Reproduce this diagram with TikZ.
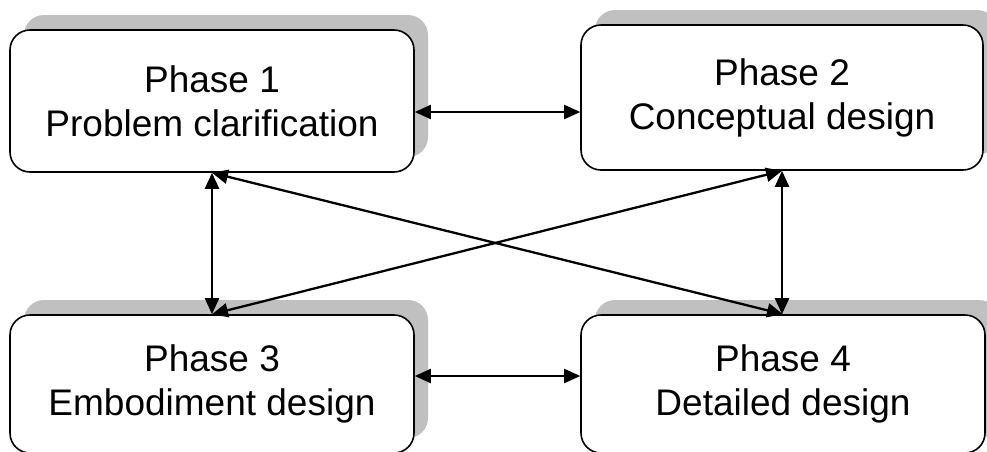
\documentclass[tikz,border=0pt]{standalone}
\usepackage{fontspec}
\setmainfont{Liberation Sans}
\usetikzlibrary{arrows.meta,shadows}
\definecolor{shadowgray}{HTML}{C0C0C0}
\tikzset{
  phasebox/.style={
    draw=black, line width=1.6pt, fill=white,
    rounded corners=20pt, inner sep=0pt, align=center,
    font=\fontsize{37}{44}\selectfont,
    drop shadow={shadow xshift=14pt, shadow yshift=15pt,
                 fill=shadowgray, opacity=1}
  },
  link/.style={
    line width=2.3pt,
    {Triangle[length=16pt,width=14pt]}-{Triangle[length=16pt,width=14pt]}
  }
}
\begin{document}
\begin{tikzpicture}[x=1pt,y=-1pt]
  \useasboundingbox (0,0) rectangle (987,451);

  % the four phases
  \node[phasebox, minimum width=404pt, minimum height=142pt] (p1) at (212,101)
    {Phase 1\\Problem clarification};
  \node[phasebox, minimum width=402pt, minimum height=145pt] (p2) at (782,97.5)
    {Phase 2\\Conceptual design};
  \node[phasebox, minimum width=404pt, minimum height=138pt] (p3) at (212,384)
    {Phase 3\\Embodiment design};
  \node[phasebox, minimum width=404pt, minimum height=138pt] (p4) at (783,384)
    {Phase 4\\Detailed design};

  % iteration links between phases
  \draw[link] ([yshift=-11pt]p1.east) -- ([yshift=-11pt]p1.east -| p2.west);
  \draw[link] ([yshift=8pt]p3.east) -- ([yshift=8pt]p3.east -| p4.west);
  \draw[link] (p1.south) -- (p3.north);
  \draw[link] (p2.south) -- (p2.south |- p4.north);
  \draw[link] (p1.south) -- (p4.north);
  \draw[link] (p3.north) -- (p2.south);
\end{tikzpicture}
\end{document}
